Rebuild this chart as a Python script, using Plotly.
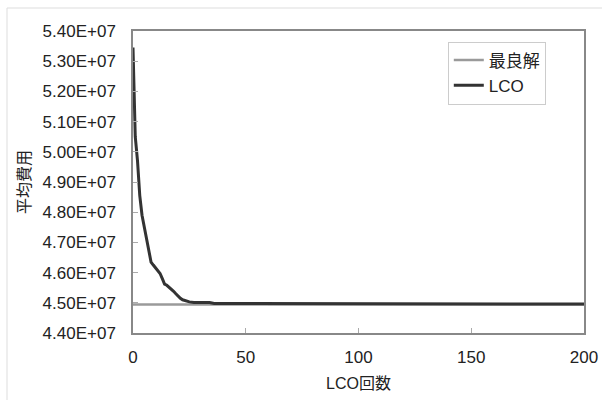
import plotly.graph_objects as go

# Data
lco_iter = [0, 1, 2, 3, 4, 5, 6, 7, 8, 9, 10, 11, 12, 13, 14, 15, 16, 17, 18, 19,
            20, 21, 22, 23, 24, 25, 27, 34, 36, 52, 54, 200]
lco_cost = [5.345e7, 5.05e7, 4.97e7, 4.855e7, 4.79e7, 4.75e7, 4.71e7, 4.67e7, 4.635e7,
            4.625e7, 4.615e7, 4.605e7, 4.597e7, 4.58e7, 4.562e7, 4.558e7, 4.552e7,
            4.545e7, 4.538e7, 4.53e7, 4.522e7, 4.515e7, 4.51e7, 4.507e7, 4.505e7,
            4.503e7, 4.501e7, 4.501e7, 4.498e7, 4.498e7, 4.496e7, 4.496e7]
best_iter = [0, 200]
best_cost = [4.494e7, 4.494e7]

y_ticks = [4.4e7, 4.5e7, 4.6e7, 4.7e7, 4.8e7, 4.9e7, 5.0e7, 5.1e7, 5.2e7, 5.3e7, 5.4e7]
y_tick_labels = ["4.40E+07", "4.50E+07", "4.60E+07", "4.70E+07", "4.80E+07", "4.90E+07",
                 "5.00E+07", "5.10E+07", "5.20E+07", "5.30E+07", "5.40E+07"]
x_ticks = [0, 50, 100, 150, 200]

FONT = "Liberation Sans, Noto Sans CJK JP, sans-serif"

fig = go.Figure()
fig.add_trace(go.Scatter(x=best_iter, y=best_cost, mode="lines", name="最良解",
                         line=dict(color="#9a9a9a", width=2.5)))
fig.add_trace(go.Scatter(x=lco_iter, y=lco_cost, mode="lines", name="LCO",
                         line=dict(color="#333333", width=3)))

fig.update_layout(
    width=602, height=400,
    margin=dict(l=133, r=18, t=31, b=67),
    paper_bgcolor="white", plot_bgcolor="white",
    font=dict(family=FONT, size=17, color="#222222"),
    showlegend=True,
    legend=dict(x=0.698, y=0.965, xanchor="left", yanchor="top",
                bgcolor="white", bordercolor="#cccccc", borderwidth=1,
                font=dict(size=17), itemwidth=30, tracegroupgap=0),
    xaxis=dict(range=[0, 200], tickvals=x_ticks, showgrid=False, zeroline=False,
               showline=True, linecolor="#888888", linewidth=1.5, mirror=True,
               ticks="inside", ticklen=5, tickcolor="#aaaaaa",
               ticklabelstandoff=8, automargin=False,
               title=dict(text="LCO回数", font=dict(size=16), standoff=12)),
    yaxis=dict(range=[4.4e7, 5.4e7], tickvals=y_ticks, ticktext=y_tick_labels,
               showgrid=False, zeroline=False,
               showline=True, linecolor="#888888", linewidth=1.5, mirror=True,
               ticks="inside", ticklen=5, tickcolor="#aaaaaa",
               ticklabelstandoff=12, automargin=False,
               title=dict(text="平均費用", font=dict(size=16), standoff=8)),
    shapes=[
        dict(type="line", xref="paper", yref="paper",
             x0=(7 - 133) / 451, x1=(7 - 133) / 451, y0=-67 / 302, y1=(333 - 8) / 302,
             line=dict(color="#dddddd", width=1)),
        dict(type="line", xref="paper", yref="paper",
             x0=(7 - 133) / 451, x1=(602 - 133) / 451, y0=(333 - 8) / 302, y1=(333 - 8) / 302,
             line=dict(color="#dddddd", width=1)),
    ],
)

fig.write_html("out.html")
